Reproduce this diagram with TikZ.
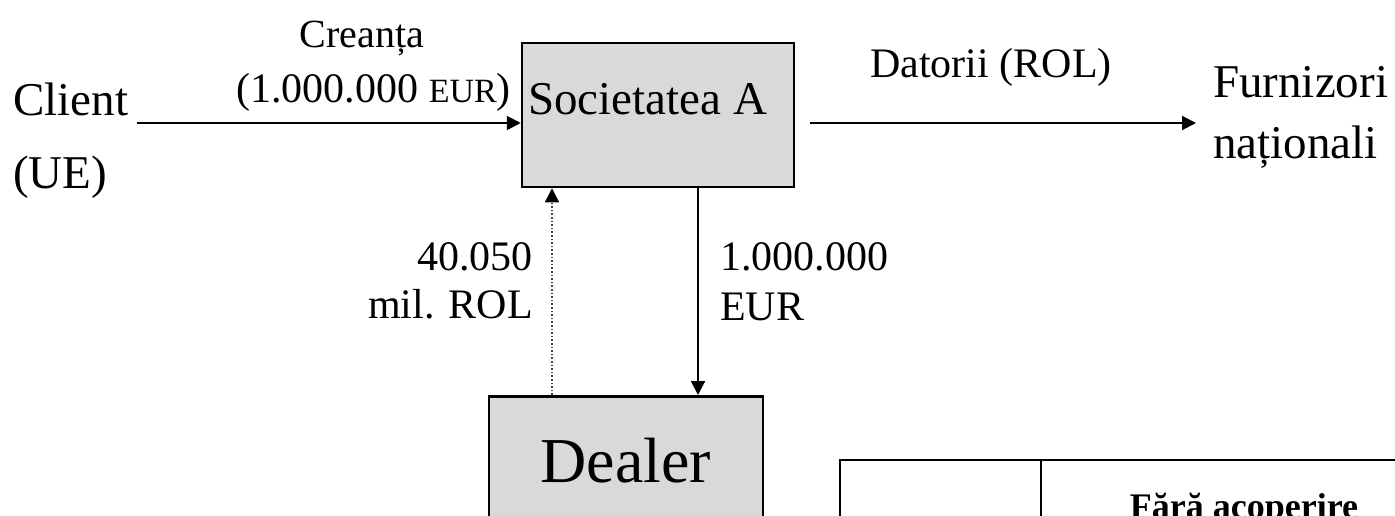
\documentclass[tikz,border=0pt]{standalone}
\usepackage{fontspec}
\setmainfont{Liberation Serif}
\usetikzlibrary{arrows.meta}
\newcommand{\fs}[1]{\fontsize{#1}{#1}\selectfont}
\begin{document}
\begin{tikzpicture}[x=1pt,y=-1pt,
  box/.style={draw=black,line width=2.5pt,fill=boxgray,inner sep=0pt},
  txt/.style={inner sep=0pt,font=\fs{47}},
  lbl/.style={inner sep=0pt,font=\fs{42}},
  arr/.style={line width=2pt,-{Triangle[length=14pt,width=14pt]}},
  dotarr/.style={line width=1.6pt,dotted,draw=black!75,-{Triangle[length=14pt,width=14pt,color=black]}},
  tabline/.style={line width=2.5pt}]
\definecolor{boxgray}{HTML}{D9D9D9}
\useasboundingbox (0,0) rectangle (1395,516);
% boxes
\node[box,minimum width=272pt,minimum height=144pt] (soc) at (658,115) {};
\node[box,minimum width=274pt,minimum height=150pt,anchor=north] (dealer) at (626,395) {};
\node[txt,anchor=base west] (soctxt) at (528,115) {Societatea A};
\node[inner sep=0pt,font=\fs{64},anchor=base] (dealertxt) at (626,482) {Dealer};
% left side
\node[txt,anchor=base west] (client) at (13,116) {Client};
\node[txt,anchor=base west] (ue) at (13,188) {(UE)};
\node[lbl,font=\fs{40},anchor=base] (creanta) at (362,48) {Creanța};
\node[lbl,font=\fs{42},anchor=base east] (suma) at (511,103) {(1.000.000 {\fs{34}EUR})};
\coordinate (c1) at (137,123);
\draw[arr] (c1) -- (c1 -| soc.west);
% right side
\node[lbl,anchor=base] (datorii) at (991,78) {Datorii (ROL)};
\node[txt,anchor=base west] (furn) at (1213,98) {Furnizori};
\node[txt,anchor=base west] (nat) at (1213,158) {naționali};
\coordinate (r1) at (810,123);
\coordinate (r2) at (1196,123);
\draw[arr] (r1) -- (r2);
% vertical flows
\coordinate (dx) at (552,0);
\coordinate (sx) at (698,0);
\draw[dotarr] (dx |- dealer.north) -- (dx |- soc.south);
\draw[arr] (sx |- soc.south) -- (sx |- dealer.north);
\node[lbl,anchor=base east] (rol1) at (533,270) {40.050};
\node[lbl,anchor=base east] (rol2) at (533,318) {mil. ROL};
\node[lbl,anchor=base west] (eur1) at (720,270) {1.000.000};
\node[lbl,anchor=base west] (eur2) at (720,320) {EUR};
% table
\coordinate (t1) at (840,460);
\coordinate (t2) at (1440,560);
\coordinate (tv) at (1041,460);
\draw[tabline] (t1) rectangle (t2);
\draw[tabline] (tv) -- (tv |- t2);
\node[inner sep=0pt,font=\bfseries\fs{36},anchor=base] (fara) at (1244,518) {Fără acoperire};
\end{tikzpicture}
\end{document}
